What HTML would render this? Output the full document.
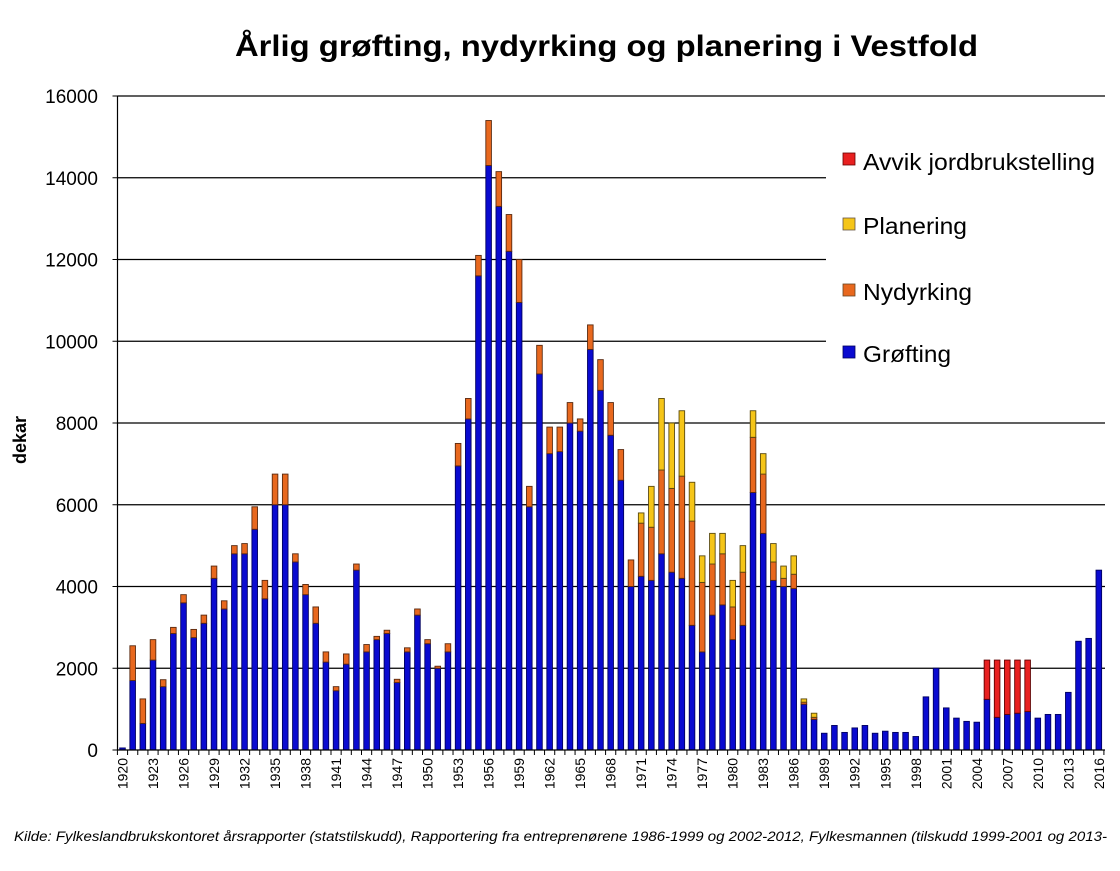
<!DOCTYPE html>
<html><head><meta charset="utf-8"><style>
body{margin:0;background:#fff;}
svg text{font-family:"Liberation Sans",sans-serif;}
</style></head><body>
<svg id="chart" width="1120" height="866" xmlns="http://www.w3.org/2000/svg">
<rect width="1120" height="866" fill="#fff"/>
<text x="235" y="56" font-size="30" font-weight="bold" textLength="743" lengthAdjust="spacingAndGlyphs">Årlig grøfting, nydyrking og planering i Vestfold</text>
<text transform="translate(26,440) rotate(-90)" font-size="18" font-weight="bold" text-anchor="middle">dekar</text>
<g id="grid"></g><g id="bars"></g><g id="axes"></g>
<g>
<rect x="826" y="138" width="279" height="240" fill="#fff"/>
<rect x="843" y="153" width="12" height="12" fill="#e82020" stroke="#600" stroke-width="0.8"/>
<text x="863" y="170" font-size="23" textLength="232" lengthAdjust="spacingAndGlyphs">Avvik jordbrukstelling</text>
<rect x="843" y="218" width="12" height="12" fill="#f5c518" stroke="#654" stroke-width="0.8"/>
<text x="863" y="234" font-size="23" textLength="104" lengthAdjust="spacingAndGlyphs">Planering</text>
<rect x="843" y="284" width="12" height="12" fill="#e8681e" stroke="#642" stroke-width="0.8"/>
<text x="863" y="300" font-size="23" textLength="109" lengthAdjust="spacingAndGlyphs">Nydyrking</text>
<rect x="843" y="346" width="12" height="12" fill="#0a0ad0" stroke="#000060" stroke-width="0.8"/>
<text x="863" y="362" font-size="23" textLength="88" lengthAdjust="spacingAndGlyphs">Grøfting</text>
</g>
<text x="14" y="841" font-size="13.5" font-style="italic" textLength="1093" lengthAdjust="spacingAndGlyphs">Kilde: Fylkeslandbrukskontoret årsrapporter (statstilskudd),  Rapportering fra entreprenørene 1986-1999 og 2002-2012,  Fylkesmannen (tilskudd 1999-2001 og 2013-</text>
</svg>
<script>
const years=[];for(let y=1920;y<=2016;y++)years.push(y);
const grofting=[50,1700,650,2200,1550,2850,3600,2750,3100,4200,3450,4800,4800,5400,3700,6000,6000,4600,3800,3100,2150,1450,2100,4400,2400,2700,2850,1650,2400,3300,2600,2000,2400,6950,8100,11600,14300,13300,12200,10950,5950,9200,7250,7300,8000,7800,9800,8800,7700,6600,4000,4250,4150,4800,4350,4200,3050,2400,3300,3550,2700,3050,6300,5300,4150,4000,3950,1120,750,410,600,430,540,600,410,460,430,430,330,1300,2000,1030,780,700,680,1240,800,870,900,940,780,870,870,1410,2660,2730,4400];
const nydyrking=[0,850,600,500,170,150,200,200,200,300,200,200,250,550,450,750,750,200,250,400,250,100,250,150,180,80,80,80,100,150,100,50,200,550,500,500,1100,850,900,1050,500,700,650,600,500,300,600,750,800,750,650,1300,1300,2050,2050,2500,2550,1700,1250,1250,800,1300,1350,1450,450,200,350,50,50,0,0,0,0,0,0,0,0,0,0,0,0,0,0,0,0,0,0,0,0,0,0,0,0,0,0,0,0];
const planering=[0,0,0,0,0,0,0,0,0,0,0,0,0,0,0,0,0,0,0,0,0,0,0,0,0,0,0,0,0,0,0,0,0,0,0,0,0,0,0,0,0,0,0,0,0,0,0,0,0,0,0,250,1000,1750,1600,1600,950,650,750,500,650,650,650,500,450,300,450,80,100,0,0,0,0,0,0,0,0,0,0,0,0,0,0,0,0,0,0,0,0,0,0,0,0,0,0,0,0];
const avvik=[0,0,0,0,0,0,0,0,0,0,0,0,0,0,0,0,0,0,0,0,0,0,0,0,0,0,0,0,0,0,0,0,0,0,0,0,0,0,0,0,0,0,0,0,0,0,0,0,0,0,0,0,0,0,0,0,0,0,0,0,0,0,0,0,0,0,0,0,0,0,0,0,0,0,0,0,0,0,0,0,0,0,0,0,0,960,1400,1330,1300,1260,0,0,0,0,0,0,0];
const yTicks=[0,2000,4000,6000,8000,10000,12000,14000,16000];
const NS="http://www.w3.org/2000/svg";
const X0=117.5,X1=1105,Y0=750,YT=96,YMAX=16000,STEP=10.17,FIRST=122.5;
const yS=v=>Y0-(v/YMAX)*(Y0-YT);
const xS=i=>FIRST+STEP*i;
function mk(tag,attrs,parent){const e=document.createElementNS(NS,tag);for(const k in attrs)e.setAttribute(k,attrs[k]);parent.appendChild(e);return e;}
const grid=document.getElementById('grid'),bars=document.getElementById('bars'),axes=document.getElementById('axes');
yTicks.forEach(v=>{
 const y=yS(v);
 if(v>0){const l=mk('line',{x1:X0,x2:X1,y1:y,y2:y,stroke:'#000','stroke-width':1.2},grid);
 
 }
 const t=mk('text',{x:98,y:y+7,'font-size':19,'text-anchor':'end'},axes);t.textContent=v;
 
 
});
const series=[[grofting,'#0a0ad0','#000060','grofting'],[nydyrking,'#e8681e','#5a2a10','nydyrking'],[planering,'#f5c518','#5a4a10','planering'],[avvik,'#e82020','#600000','avvik']];
years.forEach((yr,i)=>{
 let base=0;const cx=xS(i);
 series.forEach(([arr,fill,st,nm])=>{
  const v=arr[i];if(!v)return;
  const r=mk('rect',{x:cx-2.8,y:yS(base+v),width:5.6,height:yS(base)-yS(base+v),fill:fill,stroke:st,'stroke-width':0.9},bars);
  
  
  base+=v;
 });
});
const ax=mk('line',{x1:X0,x2:X0,y1:YT,y2:Y0,stroke:'#000','stroke-width':1.2},axes);


const bx=mk('line',{x1:X0,x2:X1,y1:Y0,y2:Y0,stroke:'#000','stroke-width':1.2},axes);


yTicks.forEach(v=>{mk('line',{x1:X0-5,x2:X0,y1:yS(v),y2:yS(v),stroke:'#000'},axes);});
for(let i=0;i<=years.length;i++){const x=FIRST-STEP/2+STEP*i;mk('line',{x1:x,x2:x,y1:Y0,y2:Y0+5,stroke:'#000'},axes);}
years.forEach((yr,i)=>{
 if((yr-1920)%3!==0)return;
 const t=mk('text',{transform:`translate(${xS(i)+5},${Y0+8}) rotate(-90)`,'font-size':14,'text-anchor':'end'},axes);
 t.textContent=yr;
 
 
});
</script>
</body></html>
